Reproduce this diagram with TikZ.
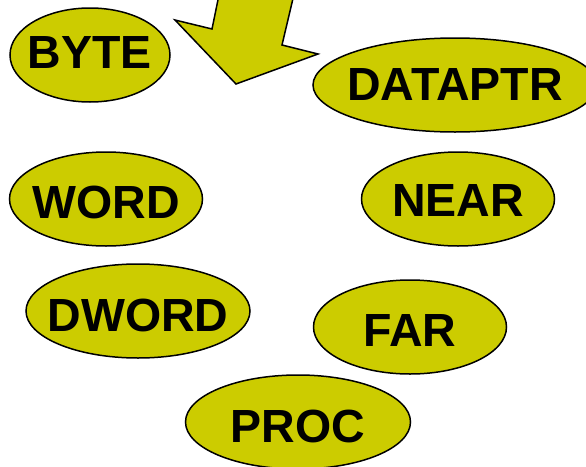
\documentclass[tikz,border=0pt]{standalone}
\usepackage{fontspec}
\setmainfont{Liberation Sans}
\usepackage{xcolor}
\usetikzlibrary{shapes.geometric}

\definecolor{typefill}{HTML}{CCCC00}

\begin{document}
\begin{tikzpicture}[x=1pt, y=-1pt,
    typebox/.style={ellipse, draw=black, line width=1.5pt, fill=typefill,
        inner sep=0pt, minimum height=94pt},
    typename/.style={font=\fontsize{46.5}{46}\selectfont\bfseries}]
\useasboundingbox (0,0) rectangle (586,466);
% the big arrow coming in from the top
\coordinate (A) at (220,-10);
\coordinate (B) at (212,29);
\coordinate (C) at (175,20);
\coordinate (D) at (236,84);
\coordinate (E) at (318,54);
\coordinate (F) at (282,45);
\coordinate (G) at (295,-10);
\draw[fill=typefill, line width=1.5pt, line join=miter]
    (A) -- (B) -- (C) -- (D) -- (E) -- (F) -- (G) -- cycle;
% the type names (\d moves the text down a little)
\foreach \name/\x/\y/\w/\d in {BYTE/90/55/160/-2, DATAPTR/455/85/284/0,
    WORD/106/199/193/3, NEAR/458/199/193/2, DWORD/138/311/224/4,
    FAR/410/327/193/3, PROC/298/422/225/4}{
    \node[typebox, minimum width=\w pt,
        label={[typename, yshift=-\d pt]center:\name}] (\name) at (\x,\y) {};
}
\end{tikzpicture}
\end{document}
